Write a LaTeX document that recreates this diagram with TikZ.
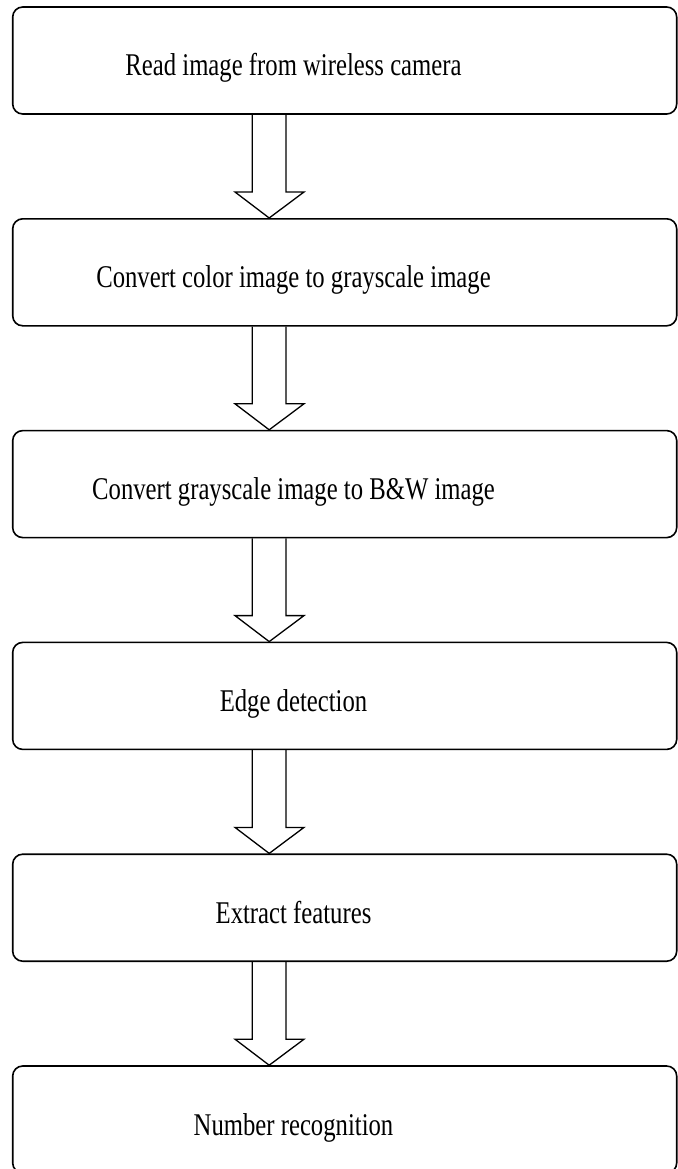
\documentclass[tikz,border=0pt]{standalone}
\usepackage{fontspec}
\setmainfont{Liberation Serif}
\usetikzlibrary{calc}
\begin{document}
\begin{tikzpicture}[x=1pt,y=-1pt,
  stepbox/.style={draw=black,line width=1.6pt,rounded corners=10pt,
    minimum width=664pt,minimum height=107pt,inner sep=0pt},
  steptext/.style={anchor=base,inner sep=0pt,
    font=\fontsize{24.7pt}{28pt}\selectfont},
  blockarrow/.style={draw=black,line width=1.3pt,line join=miter}]
\useasboundingbox (0,0) rectangle (677,1169);
\node[stepbox] (b1) at (344.7,60.5) {};
\node[stepbox] (b2) at (344.7,272.3) {};
\node[stepbox] (b3) at (344.7,484.1) {};
\node[stepbox] (b4) at (344.7,695.9) {};
\node[stepbox] (b5) at (344.7,907.7) {};
\node[stepbox] (b6) at (344.7,1119.5) {};
\node[steptext] (t1) at (293.5,76) {\scalebox{1}[1.28]{Read image from wireless camera}};
\node[steptext] (t2) at (293.5,287.8) {\scalebox{1}[1.28]{Convert color image to grayscale image}};
\node[steptext] (t3) at (293.5,499.6) {\scalebox{1}[1.28]{Convert grayscale image to B\&W image}};
\node[steptext] (t4) at (293.5,711.4) {\scalebox{1}[1.28]{Edge detection}};
\node[steptext] (t5) at (293.5,923.2) {\scalebox{1}[1.28]{Extract features}};
\node[steptext] (t6) at (293.5,1135) {\scalebox{1}[1.28]{Number recognition}};
\foreach \a/\b in {b1/b2,b2/b3,b3/b4,b4/b5,b5/b6}{
  \draw[blockarrow] let \p1=(\a.south), \p2=(\b.north) in
    ({252.3pt},{\y1}) -- ({252.3pt},{\y2+26pt}) -- ({235pt},{\y2+26pt})
    -- ({269.2pt},{\y2}) -- ({304pt},{\y2+26pt}) -- ({286pt},{\y2+26pt})
    -- ({286pt},{\y1});
}
\end{tikzpicture}
\end{document}
